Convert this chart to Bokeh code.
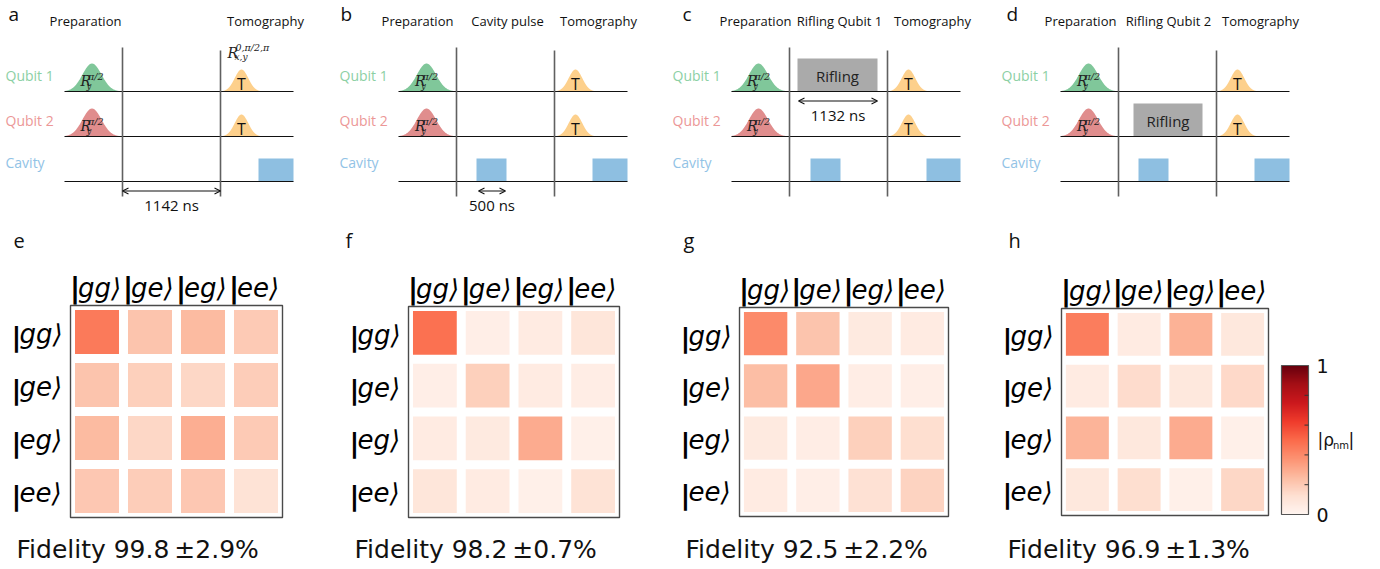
import numpy as np
from bokeh.plotting import figure
from bokeh.layouts import row, column
from bokeh.models import Range1d, ColumnDataSource, LinearColorMapper, Arrow, OpenHead
from bokeh.palettes import Reds256
from bokeh.core.properties import value
from bokeh.embed import file_html
from bokeh.resources import INLINE

# ---------------- pulse sequences (schematic time axis) ----------------
tracks = ["Qubit 1", "Qubit 2", "Cavity"]
segment_bounds = [0, 58, 156, 229]
sequence_panels = ["a", "b", "c", "d"]
stage_titles = {
    "a": ["Preparation", "", "Tomography"],
    "b": ["Preparation", "Cavity pulse", "Tomography"],
    "c": ["Preparation", "Rifling Qubit 1", "Tomography"],
    "d": ["Preparation", "Rifling Qubit 2", "Tomography"],
}
prep_pulse_center = {"a": 27.5, "b": 28, "c": 27, "d": 28}
tomo_pulse_center = 177
prep_label = ("R", "π/2", "y")
tomo_label = ("R", "0,π/2,π", "x,y")
cavity_pulses = {
    "a": [(194, 229)],
    "b": [(78, 108), (194, 229)],
    "c": [(79, 109), (195, 229)],
    "d": [(78, 108), (194, 229)],
}
# (track, start, stop)
rifling_blocks = {"c": [(0, 66, 146)], "d": [(1, 73, 142)]}
# (start, stop, duration in ns, track below which the arrow sits)
durations = {"a": [(58, 156, 1142, 2)], "b": [(80, 107, 500, 2)], "c": [(67, 146, 1132, 0)]}

# ---------------- reconstructed density matrices |rho_nm| ----------------
basis = ["gg", "ge", "eg", "ee"]
rho_e = [[0.45, 0.22, 0.25, 0.20],
         [0.22, 0.18, 0.16, 0.19],
         [0.25, 0.16, 0.29, 0.20],
         [0.21, 0.19, 0.21, 0.11]]
rho_f = [[0.48, 0.04, 0.06, 0.09],
         [0.04, 0.18, 0.06, 0.05],
         [0.06, 0.07, 0.30, 0.03],
         [0.09, 0.06, 0.03, 0.11]]
rho_g = [[0.40, 0.22, 0.07, 0.06],
         [0.24, 0.31, 0.05, 0.04],
         [0.07, 0.05, 0.18, 0.13],
         [0.06, 0.04, 0.12, 0.17]]
rho_h = [[0.44, 0.06, 0.28, 0.08],
         [0.06, 0.14, 0.08, 0.15],
         [0.27, 0.08, 0.30, 0.03],
         [0.08, 0.13, 0.03, 0.16]]
matrices = {"e": rho_e, "f": rho_f, "g": rho_g, "h": rho_h}
fidelity = {"e": (99.8, 2.9), "f": (98.2, 0.7), "g": (92.5, 2.2), "h": (96.9, 1.3)}
cbar_ticks = [0, 1]
cbar_minor = [0.2, 0.4, 0.6, 0.8]

# ---------------- styling ----------------
SANS = value("Open Sans")
DJ = value("DejaVu Sans")
SERIF = value("DejaVu Serif")
track_text_colors = ["#8cd0a4", "#ec9797", "#92c3e6"]
prep_fill = ["#80c79a", "#e08d8d"]
tomo_fill = "#fdd08c"
cavity_fill = "#8ebfe1"
rifling_fill = "#aaaaaa"

mapper = LinearColorMapper(palette=list(reversed(Reds256)), low=0, high=1)

TOP_H = 215
BOT_H = 354
TRACK_Y = [91, 136, 181]
LINE_START = 64


def bare_figure(w, h, xr, yr):
    p = figure(width=w, height=h, x_range=xr, y_range=yr,
               toolbar_location=None, output_backend="svg",
               x_axis_type=None, y_axis_type=None, min_border=0,
               outline_line_color=None, background_fill_color="white",
               border_fill_color="white")
    return p


def label(p, x, y, text, size, font=SANS, align="center", color="#111111", style="normal"):
    p.text(x=x, y=y, text=text, text_font=font, text_font_size=size,
           text_font_style=style, text_align=align, text_baseline="middle",
           text_color=color)


def gaussian(p, center, base, amp, sigma, half, color):
    t = np.linspace(center - half, center + half, 121)
    env = amp * np.exp(-((t - center) ** 2) / (2 * sigma ** 2))
    p.varea(x=t, y1=np.full_like(t, base), y2=base - env, fill_color=color)


def rotation_text(p, x, mid, parts, sizes, offsets):
    main, sup, sub = parts
    label(p, [x], [mid], [main], sizes[0], SERIF, "left", "#222222", "italic")
    label(p, [x + offsets[0]], [mid - offsets[1]], [sup], sizes[1], SERIF, "left", "#222222", "italic")
    label(p, [x + offsets[2]], [mid + offsets[3]], [sub], sizes[2], SERIF, "left", "#222222", "italic")


def sequence_panel(key, width, letter_dx, stage_x):
    p = bare_figure(width, TOP_H, Range1d(-LINE_START, width - LINE_START), Range1d(TOP_H, 0))
    t_end = segment_bounds[-1]

    # panel letter and stage headings
    label(p, [letter_dx], [13], [key], "19px", align="left")
    for sx, title in zip(stage_x, stage_titles[key]):
        if title:
            label(p, [sx], [20], [title], "13px")

    # track names
    label(p, [-59] * 3, [75, 120, 162], tracks, "14px", align="left", color=track_text_colors)

    # preparation and tomography pulses on both qubits
    c = prep_pulse_center[key]
    for k in range(2):
        base = TRACK_Y[k]
        gaussian(p, c, base, 28, 9.5, 27, prep_fill[k])
        rotation_text(p, c - 11.5, base - 11, prep_label, ("14px", "9.5px", "8.5px"), (7.5, 4.5, 6, 5))
        gaussian(p, tomo_pulse_center, base, 22, 6.8, 19, tomo_fill)
        label(p, [tomo_pulse_center], [base - 8], ["T"], "16px")
    if key == "a":
        rotation_text(p, 163, 52.5, tomo_label, ("14px", "9.5px", "9px"), (8, 6, 7, 4))

    # cavity drives / readout
    cav = cavity_pulses[key]
    base = TRACK_Y[2]
    p.quad(left=[s for s, _ in cav], right=[e for _, e in cav],
           top=[base - 23] * len(cav), bottom=[base] * len(cav),
           fill_color=cavity_fill, line_color=None)

    # rifling blocks
    for trk, s, e in rifling_blocks.get(key, []):
        b = TRACK_Y[trk]
        p.quad(left=[s], right=[e], top=[b - 33], bottom=[b], fill_color=rifling_fill, line_color=None)
        label(p, [(s + e) / 2], [b - 16], ["Rifling"], "15px", color="#222222")

    # time-axis lines and stage dividers
    p.segment(x0=[segment_bounds[0]] * 3, y0=TRACK_Y, x1=[t_end] * 3, y1=TRACK_Y,
              line_color="#111111", line_width=1.2)
    p.segment(x0=segment_bounds[1:3], y0=[47, 50], x1=segment_bounds[1:3], y1=[196, 196],
              line_color="#606060", line_width=1.6)

    # duration markers
    for s, e, ns, trk in durations.get(key, []):
        y = TRACK_Y[trk] + 9.5
        p.add_layout(Arrow(start=OpenHead(size=6, line_width=1.1, line_color="#111111"),
                           end=OpenHead(size=6, line_width=1.1, line_color="#111111"),
                           x_start=s, y_start=y, x_end=e, y_end=y,
                           line_width=1.1, line_color="#111111"))
        label(p, [(s + e) / 2], [y + 14], [f"{ns} ns"], "15px")
    return p


def matrix_panel(key, width, frame_left, frame_top, pitch, letter_px):
    n = len(basis)
    x0 = -0.5 - frame_left / pitch
    ytop = -0.5 - frame_top / pitch
    p = bare_figure(width, BOT_H, Range1d(x0, x0 + width / pitch),
                    Range1d(ytop + BOT_H / pitch, ytop))

    rho = matrices[key]
    xs, ys, vs = [], [], []
    for i in range(n):
        for j in range(n):
            xs.append(j)
            ys.append(i)
            vs.append(rho[i][j])
    src = ColumnDataSource(dict(x=xs, y=ys, v=vs))
    p.rect(x="x", y="y", width=0.83, height=0.83, source=src,
           fill_color={"field": "v", "transform": mapper}, line_color=None)
    p.rect(x=[(n - 1) / 2], y=[(n - 1) / 2], width=n, height=n,
           fill_color=None, line_color="#4a4a4a", line_width=1.4)

    kets = [b + "⟩" for b in basis]
    idx = list(range(n))
    # column labels
    col_mid = -0.5 - 17.5 / pitch
    label(p, [j - 0.5 + 4.5 / pitch for j in idx], [col_mid] * n, ["|"] * n, "29px",
          DJ, "center", "#000000", "bold")
    label(p, [j - 0.5 + 7.5 / pitch for j in idx], [col_mid] * n, kets, "26px",
          DJ, "left", "#000000", "italic")
    # row labels
    label(p, [-0.5 - 54 / pitch] * n, [i + 4 / pitch for i in idx], ["|"] * n, "27px",
          DJ, "center", "#000000", "bold")
    label(p, [-0.5 - 51 / pitch] * n, [i + 2 / pitch for i in idx], kets, "26px",
          DJ, "left", "#000000", "italic")

    # panel letter and fidelity
    label(p, [x0 + letter_px / pitch], [ytop + 25 / pitch], [key], "20px", align="left")
    f, err = fidelity[key]
    label(p, [-0.5 - 54 / pitch], [ytop + 334 / pitch], [f"Fidelity {f}\u2009±{err}%"],
          "25px", DJ, "left")
    return p


def colorbar_panel(width):
    # value axis: 0 at 299 px and 1 at 150 px from the top of this panel
    span = 149.0
    v_top = 299 / span
    p = bare_figure(width, BOT_H, Range1d(0, width), Range1d(v_top - BOT_H / span, v_top))
    grad = np.linspace(0, 1, 256).reshape(256, 1)
    p.image(image=[grad], x=6, y=0, dw=27, dh=1, color_mapper=mapper)
    p.quad(left=[6], right=[33], bottom=[0], top=[1], fill_color=None,
           line_color="#555555", line_width=1.2)
    p.segment(x0=[29] * len(cbar_minor), y0=cbar_minor, x1=[33] * len(cbar_minor),
              y1=cbar_minor, line_color="#333333", line_width=1)
    label(p, [41] * len(cbar_ticks), cbar_ticks, [str(t) for t in cbar_ticks], "19px", DJ, "left")
    vm = (299 - 224) / span
    label(p, [42], [vm], ["|ρ"], "17px", DJ, "left")
    label(p, [57.5], [vm - 6 / span], ["nm"], "10px", DJ, "left")
    label(p, [73], [vm], ["|"], "17px", DJ, "left")
    return p


top = row(
    sequence_panel("a", 334, -56, [21, 108, 201]),
    sequence_panel("b", 333, -58, [19, 109, 200]),
    sequence_panel("c", 329, -49, [24, 108, 201]),
    sequence_panel("d", 384, -54, [20, 108, 200]),
)
bottom = row(
    matrix_panel("e", 340, 70, 90, 53.0, 13),
    matrix_panel("f", 335, 68, 91, 52.75, 5),
    matrix_panel("g", 325, 64, 92, 52.25, 8),
    matrix_panel("h", 275, 61, 93, 51.75, 8),
    colorbar_panel(105),
)
layout = column(top, bottom)

open("out.html", "w").write(file_html(layout, INLINE))
